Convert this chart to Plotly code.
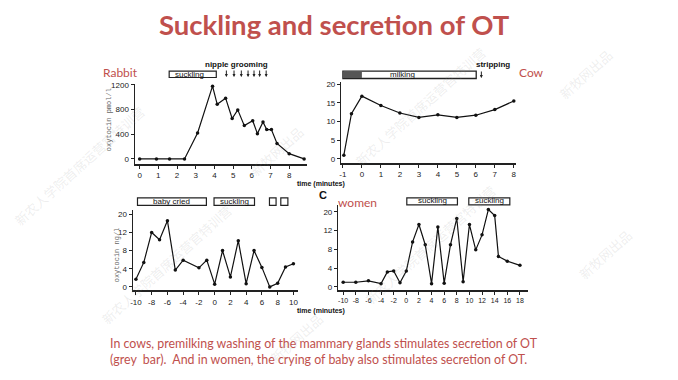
import plotly.graph_objects as go

W, H = 678, 380
def fx(px): return px / W
def fy(py): return 1 - py / H

# ---------------- data ----------------
rabbit_t = [0, 0.9, 1.6, 2.4, 3.1, 3.9, 4.15, 4.6, 4.95, 5.25, 5.6, 6.05, 6.3, 6.6, 6.8, 7.05, 7.35, 8.0, 8.8]
rabbit_ot = [0, 0, 0, 0, 420, 1180, 885, 985, 655, 795, 540, 620, 410, 600, 475, 475, 250, 85, 0]
rabbit_xticks = [0, 1, 2, 3, 4, 5, 6, 7, 8]
rabbit_yticks = [0, 400, 800, 1200]
rabbit_suckling = (1.58, 4.1)
rabbit_grooming = [4.64, 5.05, 5.44, 5.8, 6.12, 6.42, 6.77]

cow_t = [-0.95, -0.55, 0, 1, 2, 3, 4, 5, 6, 7, 8]
cow_ot = [1.0, 12.1, 16.8, 14.3, 12.3, 11.1, 11.8, 11.1, 11.7, 13.2, 15.5]
cow_xticks = [-1, 0, 1, 2, 3, 4, 5, 6, 7, 8]
cow_yticks = [0, 5, 10, 15, 20]
cow_premilk = (-1, 0)
cow_milking = (-1, 6.02)
cow_stripping = 6.29

baby_t = [-10, -9, -8, -7, -6, -5, -4, -2, -1, 0, 1, 2, 3, 4, 5, 6, 7, 8, 9, 10]
baby_ot = [1.7, 5.4, 12.0, 10.4, 14.6, 3.7, 5.9, 4.2, 5.9, 0.6, 8.0, 2.2, 10.2, 0.7, 8.0, 4.3, 0, 0.8, 4.4, 5.1]
baby_xticks = [-10, -8, -6, -4, -2, 0, 2, 4, 6, 8, 10]
baby_events = [(-9.8, -1.05, "baby cried"), (-0.08, 5.06, "suckling"), (6.96, 7.8, ""), (8.4, 9.3, "")]

women_t = [-10, -8, -6, -4, -3, -2, -1, 0, 1, 2, 3, 4, 5, 6, 7, 8, 9, 10, 11, 12, 13, 14, 14.6, 16, 18]
women_ot = [1.0, 1.0, 1.3, 0.7, 3.2, 3.4, 0.9, 3.4, 9.6, 13.3, 9.0, 0.7, 12.8, 0.8, 9.0, 14.6, 1.1, 13.3, 7.9, 11.1, 16.5, 15.2, 6.5, 5.5, 4.6]
women_xticks = [-10, -8, -6, -4, -2, 0, 2, 4, 6, 8, 10, 12, 14, 16, 18]
women_events = [(0.08, 8.1, "suckling"), (9.9, 16.4, "suckling")]

bottom_yticks = [0, 4, 8, 12, 16]
bottom_yticktext = ["0", "4", "8", "12", "20"]

RED = "#C0504D"
TICKFONT = dict(family="Liberation Sans", size=8, color="#222")

fig = go.Figure()

def add_series(t, v, xa, ya):
    fig.add_trace(go.Scatter(x=t, y=v, mode="lines+markers", xaxis=xa, yaxis=ya,
                             line=dict(color="#111", width=1.2),
                             marker=dict(color="#111", size=3.5),
                             showlegend=False, hoverinfo="x+y"))

add_series(rabbit_t, rabbit_ot, "x", "y")
add_series(cow_t, cow_ot, "x2", "y2")
add_series(baby_t, baby_ot, "x3", "y3")
add_series(women_t, women_ot, "x4", "y4")

def xax(dom, rng, ticks, anchor, size=8):
    return dict(domain=[fx(dom[0]), fx(dom[1])], range=rng, tickvals=ticks,
                ticktext=[str(t) for t in ticks], anchor=anchor, tickangle=0,
                showline=True, linecolor="#222", linewidth=1.5, ticks="outside", ticklen=3,
                tickcolor="#222", showgrid=False, zeroline=False,
                tickfont=dict(family="Liberation Sans", size=size, color="#222"))

def yax(dom, rng, ticks, anchor, text=None):
    d = dict(domain=[fy(dom[0]), fy(dom[1])], range=rng, tickvals=ticks, anchor=anchor,
             showline=True, linecolor="#222", linewidth=1.2, ticks="outside", ticklen=3,
             tickcolor="#222", showgrid=False, zeroline=False, tickfont=TICKFONT)
    if text is not None:
        d["ticktext"] = text
    return d

fig.update_layout(
    xaxis=xax((133, 306), [-0.27, 8.96], rabbit_xticks, "y"),
    yaxis=yax((163, 82), [-80, 1216], rabbit_yticks, "x"),
    xaxis2=xax((340, 516), [-1.1, 8.14], cow_xticks, "y2"),
    yaxis2=yax((162, 80), [-1.05, 20.6], cow_yticks, "x2"),
    xaxis3=xax((131, 297), [-10.42, 10.6], baby_xticks, "y3"),
    yaxis3=yax((291, 210), [-0.72, 16.9], bottom_yticks, "x3", bottom_yticktext),
    xaxis4=xax((337, 528), [-10.82, 19.35], women_xticks, "y4", size=7),
    yaxis4=yax((291, 205), [-0.69, 17.4], bottom_yticks, "x4", bottom_yticktext),
)

shapes = []
ann = []

def bar(xref, x0, x1, y0, y1, fill="white", lw=1.2):
    shapes.append(dict(type="rect", xref=xref, yref="paper", x0=x0, x1=x1,
                       y0=fy(y1), y1=fy(y0), line=dict(color="#222", width=lw), fillcolor=fill))

def text_at(xref, x, py, text, size=8, color="#111", family="Liberation Sans", xanchor="center", **kw):
    d = dict(xref=xref, yref="paper", x=x, y=fy(py), text=text, showarrow=False,
             font=dict(family=family, size=size, color=color),
             xanchor=xanchor, yanchor="middle")
    d.update(kw)
    ann.append(d)

# rabbit events
bar("x", rabbit_suckling[0], rabbit_suckling[1], 69, 75.5)
text_at("x", 2.67, 72, "suckling")
text_at("x", 5.2, 62, "<b>nipple grooming</b>")
for g in rabbit_grooming:
    ann.append(dict(xref="x", yref="paper", x=g, y=fy(75), ax=0, ay=-8, text="", showarrow=True,
                    arrowhead=2, arrowsize=0.6, arrowwidth=1, arrowcolor="#222"))

# cow events
bar("x2", cow_milking[0], cow_milking[1], 69, 76.5, lw=1.3)
shapes.append(dict(type="rect", xref="x2", yref="paper", x0=cow_premilk[0], x1=cow_premilk[1],
                   y0=fy(76), y1=fy(69.5), line=dict(width=0), fillcolor="#555"))
text_at("x2", 2.14, 72.5, "milking")
text_at("x2", 6.9, 62, "<b>stripping</b>")
ann.append(dict(xref="x2", yref="paper", x=cow_stripping, y=fy(76), ax=0, ay=-8, text="", showarrow=True,
                arrowhead=2, arrowsize=0.6, arrowwidth=1, arrowcolor="#222"))

# baby / women events
for x0, x1, t in baby_events:
    bar("x3", x0, x1, 197.5, 205)
    if t:
        text_at("x3", (x0 + x1) / 2, 201, t)
for x0, x1, t in women_events:
    bar("x4", x0, x1, 197.5, 204.5)
    text_at("x4", (x0 + x1) / 2, 200.5, t)

# axis titles
text_at("paper", fx(108), 118, "oxytocin pmol/l", size=7, color="#666", family="Liberation Mono", textangle=-90)
text_at("paper", fx(115), 255, "oxytocin ng/l", size=7, color="#666", family="Liberation Mono", textangle=-90)
text_at("paper", fx(320), 183, "<b>time (minutes)</b>", size=7)
text_at("paper", fx(320), 312, "<b>time (minutes)</b>", size=7)

# panel labels
text_at("paper", fx(119), 70, "Rabbit", size=12, color=RED, family="Lato")
text_at("paper", fx(531), 70, "Cow", size=12, color=RED, family="Lato")
text_at("paper", fx(357), 202, "women", size=12, color=RED, family="Lato")
text_at("paper", fx(322), 195, "<b>C</b>", size=11)

# title & caption
text_at("paper", fx(333), 22, "<b>Suckling and secretion of OT</b>", size=27.5, color=RED, family="Lato")
text_at("paper", fx(106), 353, "In cows, premilking washing of the mammary glands stimulates secretion of OT<br>"
        "(grey  bar).  And in women, the crying of baby also stimulates secretion of OT.",
        size=12.4, color=RED, family="Lato", xanchor="left", align="left")

# watermark (faint, diagonal)
wm_a = "新农人学院首席运营官特训营"
wm_b = "新牧网出品"
for px, py in [(78, 165), (420, 105), (430, 245), (165, 265)]:
    text_at("paper", fx(px), py, wm_a, size=13, color="rgba(150,150,150,0.16)",
            family="Noto Sans CJK SC", textangle=-42)
for px, py in [(585, 72), (275, 150), (295, 340), (605, 255)]:
    text_at("paper", fx(px), py, wm_b, size=13, color="rgba(150,150,150,0.16)",
            family="Noto Sans CJK SC", textangle=-42)

fig.update_layout(shapes=shapes, annotations=ann, width=W, height=H,
                  margin=dict(l=0, r=0, t=0, b=0), paper_bgcolor="white", plot_bgcolor="white")
fig.write_html("out.html", post_script="document.body.style.margin='0';",
               config={"displayModeBar": False})
